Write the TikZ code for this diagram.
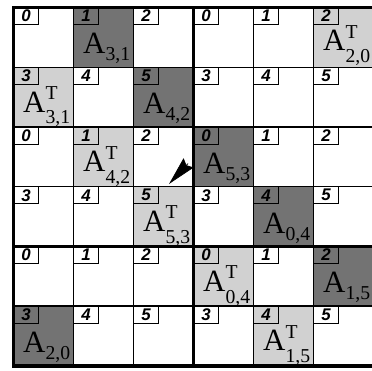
\documentclass[tikz,border=0pt]{standalone}
\usepackage{fontspec}
\setmainfont{Liberation Serif}
\newfontfamily\digitfont{Liberation Sans}
\usetikzlibrary{arrows.meta, backgrounds}

\colorlet{dark}{black!55}
\colorlet{light}{black!18}

\newcommand\Ablk[1]{A\raisebox{-5pt}{\fontsize{14}{14}\selectfont #1}}
\newcommand\Atrn[1]{A\rlap{\raisebox{9pt}{\fontsize{14}{14}\selectfont T}}\raisebox{-8.5pt}{\fontsize{14}{14}\selectfont #1}}

\begin{document}
\begin{tikzpicture}[x=0.025cm, y=-0.025cm, >=Stealth,
  cell/.style  = {draw, line width=0.8pt, minimum width=1.5cm, minimum height=1.4925cm,
                  inner sep=0pt, outer sep=0pt},
  num/.style   = {draw, line width=0.8pt, anchor=north west, minimum width=0.63cm,
                  minimum height=0.43cm, inner sep=0pt, outer sep=0pt,
                  font=\digitfont\bfseries\itshape\fontsize{12}{12}\selectfont},
  blk/.style   = {anchor=base, inner sep=0pt, font=\fontsize{22}{22}\selectfont},
  sep/.style   = {line width=1.8pt},
  frame/.style = {line width=2.8pt}
]
\useasboundingbox (0,0) rectangle (372,370);

%% --- 6x6 grid of blocks, numbered per processor ---
\foreach \r in {0,...,5}
  \foreach \c in {0,...,5} {
    \pgfmathtruncatemacro\k{3*mod(\r,2)+mod(\c,3)}
    \node[cell] (c-\r-\c) at ({43.5+60*\c},{37.35+59.7*\r}) {};
    \node[num] (n-\r-\c) at (c-\r-\c.north west) {\k};
  }

%% --- shaded blocks ---
\begin{scope}[on background layer]
  \foreach \r/\c/\s in {0/1/dark, 1/2/dark, 2/3/dark, 3/4/dark, 4/5/dark, 5/0/dark,
                        0/5/light, 1/0/light, 2/1/light, 3/2/light, 4/3/light, 5/4/light}
    \fill[fill=\s] (c-\r-\c.north west) rectangle (c-\r-\c.south east);
\end{scope}

%% --- block labels ---
\node[blk] (a31)  at ([xshift=0.08cm, yshift=-1.16cm]c-0-1.north) {\Ablk{3,1}};
\node[blk] (a42)  at ([xshift=0.08cm, yshift=-1.16cm]c-1-2.north) {\Ablk{4,2}};
\node[blk] (a53)  at ([xshift=0.08cm, yshift=-1.16cm]c-2-3.north) {\Ablk{5,3}};
\node[blk] (a04)  at ([xshift=0.08cm, yshift=-1.16cm]c-3-4.north) {\Ablk{0,4}};
\node[blk] (a15)  at ([xshift=0.08cm, yshift=-1.16cm]c-4-5.north) {\Ablk{1,5}};
\node[blk] (a20)  at ([xshift=0.08cm, yshift=-1.16cm]c-5-0.north) {\Ablk{2,0}};

\node[blk] (t20)  at ([xshift=0.08cm, yshift=-1.08cm]c-0-5.north) {\Atrn{2,0}};
\node[blk] (t31)  at ([xshift=0.08cm, yshift=-1.12cm]c-1-0.north) {\Atrn{3,1}};
\node[blk] (t42)  at ([xshift=0.08cm, yshift=-1.12cm]c-2-1.north) {\Atrn{4,2}};
\node[blk] (t53)  at ([xshift=0.08cm, yshift=-1.12cm]c-3-2.north) {\Atrn{5,3}};
\node[blk] (t04)  at ([xshift=0.08cm, yshift=-1.12cm]c-4-3.north) {\Atrn{0,4}};
\node[blk] (t15)  at ([xshift=0.08cm, yshift=-1.12cm]c-5-4.north) {\Atrn{1,5}};

%% --- processor boundaries and frame ---
\draw[sep] (c-1-0.south west) -- (c-1-5.south east);
\draw[sep] (c-3-0.south west) -- (c-3-5.south east);
\draw[sep] (c-0-3.north west) -- (c-5-3.south west);
\draw[frame] (c-0-0.north west) rectangle (c-5-5.south east);

%% --- transpose arrow ---
\coordinate (tail) at (188,163.5);
\coordinate (tip)  at (169,184);
\draw[-{Stealth[length=0.72cm, width=0.34cm, inset=0.08cm]}, line width=0.5pt] (tail) -- (tip);
\end{tikzpicture}
\end{document}
